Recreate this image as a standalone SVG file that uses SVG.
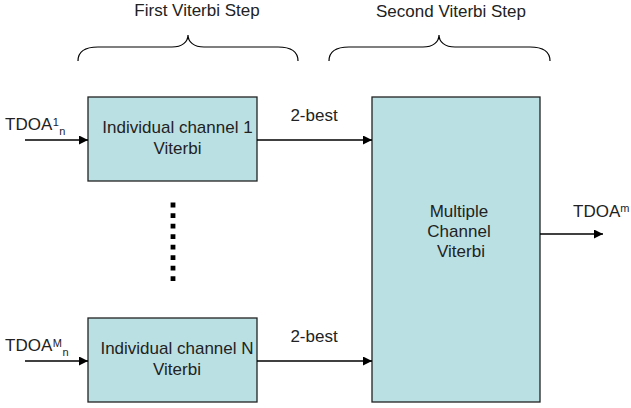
<svg xmlns="http://www.w3.org/2000/svg" width="631" height="408" viewBox="0 0 631 408">
  <defs>
    <marker id="arrow" viewBox="0 0 10 10" refX="10" refY="5" markerWidth="10" markerHeight="9" markerUnits="userSpaceOnUse" orient="auto">
      <path d="M0,0 L10,5 L0,10 Z" fill="#000"/>
    </marker>
    <style>
      .box { fill: #BBE0E3; stroke: #222; stroke-width: 1.3; }
      .lbl { font-family: "Liberation Sans", Arial, sans-serif; font-size: 17px; fill: #222; }
      .small { font-size: 11px; }
      .mid { text-anchor: middle; }
      .brace { fill: none; stroke: #000; stroke-width: 1.2; }
      .wire { fill: none; stroke: #000; stroke-width: 1.5; marker-end: url(#arrow); }
      .dots { fill: none; stroke: #000; stroke-width: 4.8; stroke-dasharray: 4.8 5.73; }
    </style>
  </defs>
  <rect width="631" height="408" fill="#fff"/>

  <!-- stage headings with braces -->
  <g id="step1">
    <text class="lbl mid" x="197" y="16">First Viterbi Step</text>
    <path class="brace" d="M78,61 C78,52 84,47 98,47 L172,47 C182,47 188,42 188,35 C188,42 194,47 204,47 L278,47 C292,47 298,52 298,61"/>
  </g>
  <g id="step2">
    <text class="lbl mid" x="451" y="16.5">Second Viterbi Step</text>
    <path class="brace" d="M329,61 C329,52 335,47 349,47 L423,47 C433,47 439,42 439,35 C439,42 445,47 455,47 L530,47 C544,47 550,52 550,61"/>
  </g>

  <!-- first-step channel blocks -->
  <g id="chan1">
    <rect class="box" x="88" y="97" width="169" height="84"/>
    <text class="lbl mid" x="177.5" y="133">Individual channel 1</text>
    <text class="lbl mid" x="177.5" y="154">Viterbi</text>
  </g>
  <g id="chanN">
    <rect class="box" x="88" y="318" width="169" height="84"/>
    <text class="lbl mid" x="177" y="354">Individual channel N</text>
    <text class="lbl mid" x="177" y="375">Viterbi</text>
  </g>

  <!-- second-step combiner -->
  <g id="multi">
    <rect class="box" x="372" y="97" width="168" height="305"/>
    <text class="lbl mid" x="459" y="216.5">Multiple</text>
    <text class="lbl mid" x="459" y="236.5">Channel</text>
    <text class="lbl mid" x="461" y="257">Viterbi</text>
  </g>

  <!-- ellipsis between channels -->
  <g id="ellipsis">
    <line class="dots" x1="173" y1="202.6" x2="173" y2="282"/>
  </g>

  <!-- input / output labels -->
  <g id="in1">
    <text class="lbl" x="5" y="130">TDOA<tspan class="small" dx="0.5" dy="-4">1</tspan><tspan class="small" dx="0.5" dy="9">n</tspan></text>
  </g>
  <g id="inM">
    <text class="lbl" x="5" y="351">TDOA<tspan class="small" dx="0.5" dy="-4">M</tspan><tspan class="small" dx="0.5" dy="9">n</tspan></text>
  </g>
  <g id="out">
    <text class="lbl" x="573" y="217">TDOA<tspan class="small" dy="-5">m</tspan></text>
  </g>

  <!-- connectors -->
  <g id="connectors">
    <line class="wire" x1="25" y1="140" x2="88" y2="140"/>
    <line class="wire" x1="25" y1="361" x2="88" y2="361"/>
    <line class="wire" x1="257" y1="140" x2="372" y2="140"/>
    <line class="wire" x1="257" y1="361" x2="372" y2="361"/>
    <line class="wire" x1="540" y1="234" x2="603" y2="234"/>
    <text class="lbl mid" x="314" y="121">2-best</text>
    <text class="lbl mid" x="314" y="342">2-best</text>
  </g>
</svg>
